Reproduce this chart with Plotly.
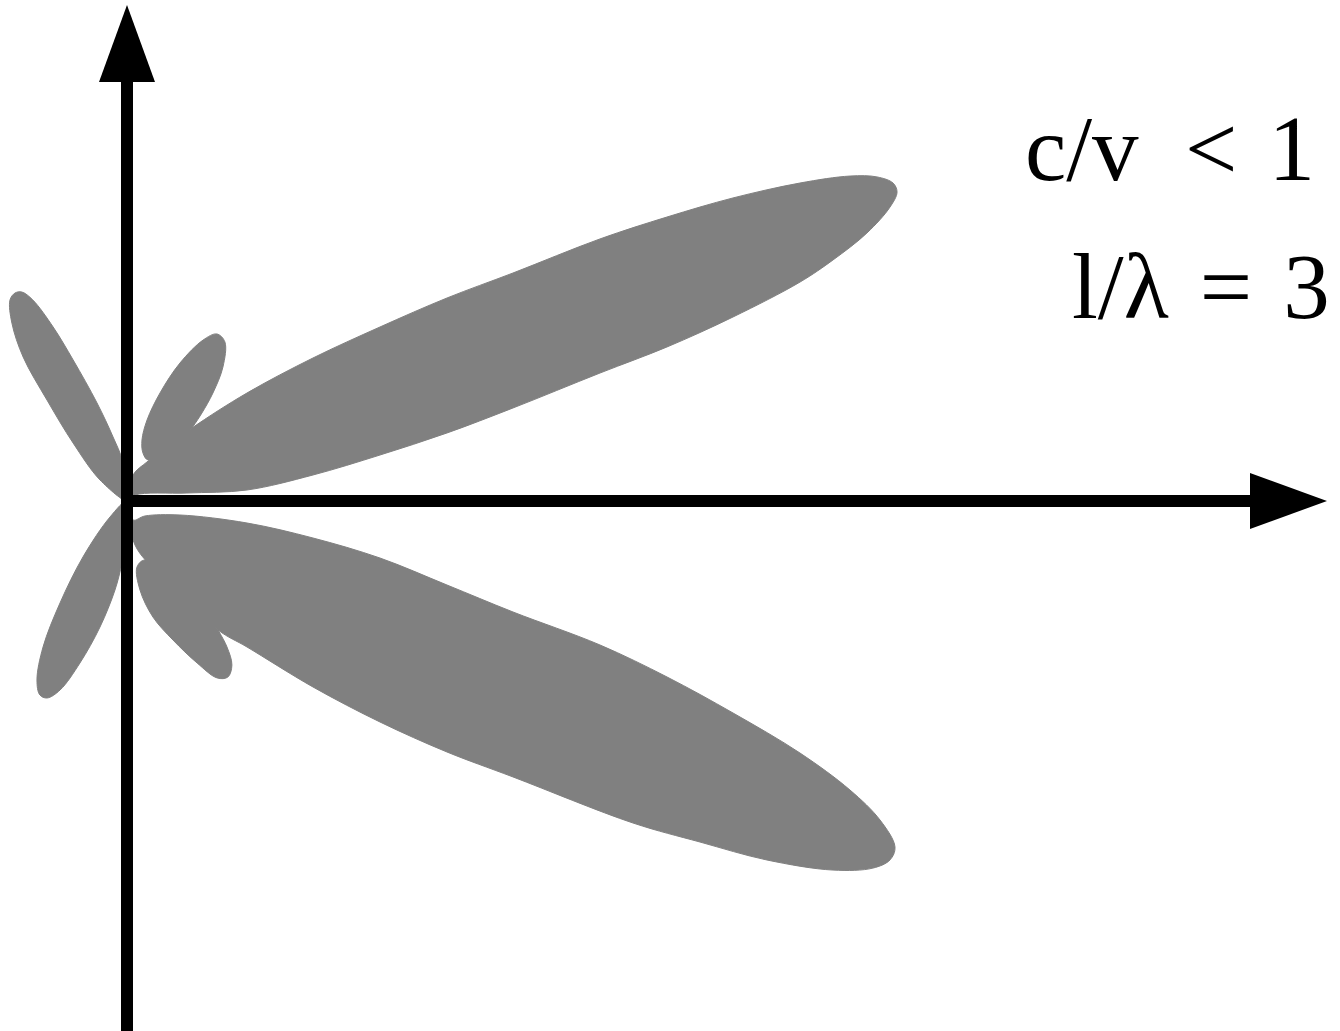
import numpy as np
import plotly.graph_objects as go

# lobe outlines as (angle in degrees, radius in plot units)
upper_main_theta = [0, 36.9, 7.6, 5.24, 7.96, 10.30, 12.0, 13.55, 15.14, 15.92, 16.89,
                    18.02, 18.85, 19.91, 21.07, 21.86, 22.54, 23.37, 24.20, 25.29, 26.57, 27.74,
                    28.99, 30.57, 32.39, 34.52, 37.56, 41.99, 48.32, 56, 62.9, 77, 90]
upper_main_r = [0, 10, 60.5, 120.5, 187.8, 257.1, 327.1, 397.0, 490.0, 561.5, 633.3,
                707.7, 746.0, 787.0, 817.7, 829.7, 829.4, 817.0, 792.7, 744.3, 677.5, 610.1,
                540.7, 448.3, 379.0, 307.1, 234.6, 161.4, 97.7, 59, 43.8, 26.7, 0]

upper_side_theta = [48.3, 49.6, 51.5, 54.4, 58.4, 61.7, 64.7, 69.0, 73.0, 76.1, 76.2, 71.6, 62.9, 49.9]
upper_side_r = [97.7, 115.6, 138, 164.8, 186.8, 189.7, 178, 147.8, 113, 83.4, 62.8, 50.6, 46.1, 66.7]

upper_back_theta = [90, 105.5, 97, 102.3, 107, 110.9, 113, 115.1, 116.7, 118.3, 120.2, 122.9,
                    125.8, 128.4, 132.9, 142.1, 180]
upper_back_r = [0, 18.7, 41.3, 65.5, 102.5, 151, 189, 221.9, 233.9, 236.2, 232.6, 211.9,
                177.6, 128.8, 79.2, 34.2, 0]

lower_main_theta = [-90, -72.5, -39.8, -14.8, -10.39, -11.25, -12.70, -14.71, -16.04,
                    -16.93, -18.05, -19.28, -20.53, -21.79, -22.96, -24.25, -25.19, -26.20,
                    -27.60, -29.29, -30.76, -32.47, -35.56, -38.11, -41.14,
                    -45.0, -50.58, -54.8, -66.0, -79.7, -90]
lower_main_r = [0, 19.9, 23.4, 54.8, 122.0, 189.6, 259.3, 330.8, 401.6,
                494.4, 568.0, 642.0, 718.6, 778.6, 817.8, 842.3, 843.2, 831.4,
                796.6, 733.8, 666.8, 599.8, 474.5, 406.7, 335.9,
                263.0, 189.0, 157.9, 81, 44.7, 0]

lower_side_theta = [-54.8, -55.6, -57.4, -60.2, -63.0, -66.6, -71.7, -77.4, -81.7, -81.4, -73.0, -59.2]
lower_side_r = [157.9, 177, 194.7, 202.9, 198.6, 176.5, 146.4, 118.9, 89.9, 66.8, 61.7, 103.6]

lower_back_theta = [-180, -136.7, -128.2, -123.3, -119.9, -116.7, -114.2, -112.1, -109.5, -106.2,
                    -102.1, -97.7, -94.6, -90, -90]
lower_back_r = [0, 23.3, 71.2, 122, 168.4, 200.4, 212.6, 212.6, 200.5, 168.7,
                128.9, 89.8, 62.2, 34, 0]

lobes = [
    (upper_back_theta, upper_back_r),
    (lower_back_theta, lower_back_r),
    (upper_side_theta, upper_side_r),
    (lower_side_theta, lower_side_r),
    (upper_main_theta, upper_main_r),
    (lower_main_theta, lower_main_r),
]

GRAY = "#808080"

fig = go.Figure()
for theta, r in lobes:
    t = np.radians(theta)
    r = np.array(r, dtype=float)
    fig.add_trace(go.Scatter(
        x=r * np.cos(t), y=r * np.sin(t),
        mode="lines", fill="toself", fillcolor=GRAY,
        line=dict(color=GRAY, width=1, shape="spline", smoothing=1.0),
        hoverinfo="skip", showlegend=False))

# axes with arrow heads
fig.add_shape(type="line", x0=0, x1=0, y0=-540, y1=425,
              line=dict(color="black", width=12))
fig.add_shape(type="line", x0=-6, x1=1125, y0=0, y1=0,
              line=dict(color="black", width=12))
fig.add_shape(type="path", path="M -28 419 L 0 496 L 28 419 Z",
              fillcolor="black", line=dict(width=0))
fig.add_shape(type="path", path="M 1123 28 L 1200 0 L 1123 -28 Z",
              fillcolor="black", line=dict(width=0))

font = dict(family="Liberation Serif, Times New Roman, serif", size=93, color="black")
fig.add_annotation(text="c/v\u2002&lt;\u20041", xref="paper", yref="paper",
                   x=1317 / 1340, y=1 - 149 / 1031, xanchor="right", yanchor="middle",
                   showarrow=False, font=font)
fig.add_annotation(text="l/λ\u2004=\u20043", xref="paper", yref="paper",
                   x=1332 / 1340, y=1 - 286 / 1031, xanchor="right", yanchor="middle",
                   showarrow=False, font=font)

fig.update_layout(
    width=1340, height=1031,
    margin=dict(l=0, r=0, t=0, b=0),
    plot_bgcolor="white", paper_bgcolor="white",
    xaxis=dict(range=[-127, 1213], visible=False, fixedrange=True),
    yaxis=dict(range=[-530, 501], visible=False, fixedrange=True),
)

fig.write_html("out.html", config={"displayModeBar": False},
               post_script="document.body.style.margin='0';")
